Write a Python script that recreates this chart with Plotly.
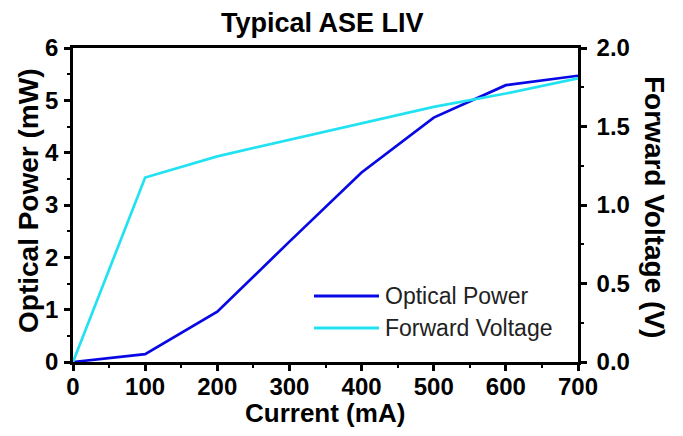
import plotly.graph_objects as go

current_ma = [0, 100, 200, 300, 400, 500, 600, 700]
optical_power_mw = [0, 0.15, 0.96, 2.30, 3.62, 4.67, 5.29, 5.47]
forward_voltage_v = [0, 1.175, 1.31, 1.415, 1.52, 1.625, 1.71, 1.807]

x_ticks = [0, 100, 200, 300, 400, 500, 600, 700]
y1_ticks = [0, 1, 2, 3, 4, 5, 6]
y2_ticks = [0.0, 0.5, 1.0, 1.5, 2.0]

series_names = ["Optical Power", "Forward Voltage"]
blue = "#0808e4"
cyan = "#22e2f2"

FONT = "Liberation Sans, Arial, sans-serif"

# page body has an 8px margin; plot area target (absolute): x 73..578, y 48..362
OFF = 8
W, H = 683 - OFF, 436 - OFF
L, R, T, B = 73 - OFF, W - (578 - OFF), 48 - OFF, H - (362 - OFF)
PW, PH = 578 - 73, 362 - 48


def px(abs_x):
    return (abs_x - 73) / PW


def py(abs_y):
    return (362 - abs_y) / PH


fig = go.Figure()
fig.add_trace(go.Scatter(x=current_ma, y=forward_voltage_v, mode="lines",
                         line=dict(color=cyan, width=2.7), name=series_names[1],
                         yaxis="y2", showlegend=False))
fig.add_trace(go.Scatter(x=current_ma, y=optical_power_mw, mode="lines",
                         line=dict(color=blue, width=2.7), name=series_names[0],
                         yaxis="y", showlegend=False))

tickfont = dict(family=FONT, size=24, color="black", weight="bold")
titlefont = dict(family=FONT, size=26, color="black", weight="bold")
vtitlefont = dict(family=FONT, size=28, color="black", weight="bold")

axis_common = dict(showgrid=False, zeroline=False, showline=True, linecolor="black",
                   linewidth=2.5, ticks="outside", ticklen=6, tickwidth=2.5,
                   tickcolor="black", tickfont=tickfont)
minor_common = dict(ticks="outside", ticklen=3, tickwidth=2, tickcolor="black")

fig.update_layout(
    width=W, height=H,
    margin=dict(l=L, r=R, t=T, b=B),
    paper_bgcolor="white", plot_bgcolor="white",
    xaxis=dict(range=[0, 700], tickvals=x_ticks, mirror=True, ticklabelstandoff=-5,
               minor=dict(dtick=50, **minor_common), **axis_common),
    yaxis=dict(range=[0, 6], tickvals=y1_ticks, ticklabelstandoff=1,
               minor=dict(dtick=0.5, **minor_common), **axis_common),
    yaxis2=dict(range=[0, 2.0], tickvals=y2_ticks, ticktext=[f"{v:.1f}" for v in y2_ticks],
                overlaying="y", side="right", ticklabelstandoff=5,
                minor=dict(dtick=0.25, **minor_common), **axis_common),
)

# titles as annotations for exact placement
fig.add_annotation(text="Typical ASE LIV", xref="paper", yref="paper",
                   x=px(322), y=py(23), showarrow=False, xanchor="center", yanchor="middle",
                   font=dict(family=FONT, size=27, color="black", weight="bold"))
fig.add_annotation(text="Current (mA)", xref="paper", yref="paper",
                   x=px(325), y=py(413), showarrow=False, xanchor="center", yanchor="middle",
                   font=titlefont)
fig.add_annotation(text="Optical Power (mW)", xref="paper", yref="paper",
                   x=px(28), y=py(201), textangle=-90, showarrow=False,
                   xanchor="center", yanchor="middle", font=vtitlefont)
fig.add_annotation(text="Forward Voltage (V)", xref="paper", yref="paper",
                   x=px(655), y=py(207), textangle=90, showarrow=False,
                   xanchor="center", yanchor="middle", font=vtitlefont)

# legend drawn manually
legend_rows = [(series_names[0], blue, py(296)), (series_names[1], cyan, py(328))]
for name, color, yp in legend_rows:
    fig.add_shape(type="line", xref="paper", yref="paper",
                  x0=px(314), x1=px(379), y0=yp, y1=yp,
                  line=dict(color=color, width=3))
    fig.add_annotation(text=name, xref="paper", yref="paper",
                       x=px(383), y=yp, xanchor="left", yanchor="middle",
                       showarrow=False,
                       font=dict(family=FONT, size=23, color="#222222"))

fig.write_html("out.html")
